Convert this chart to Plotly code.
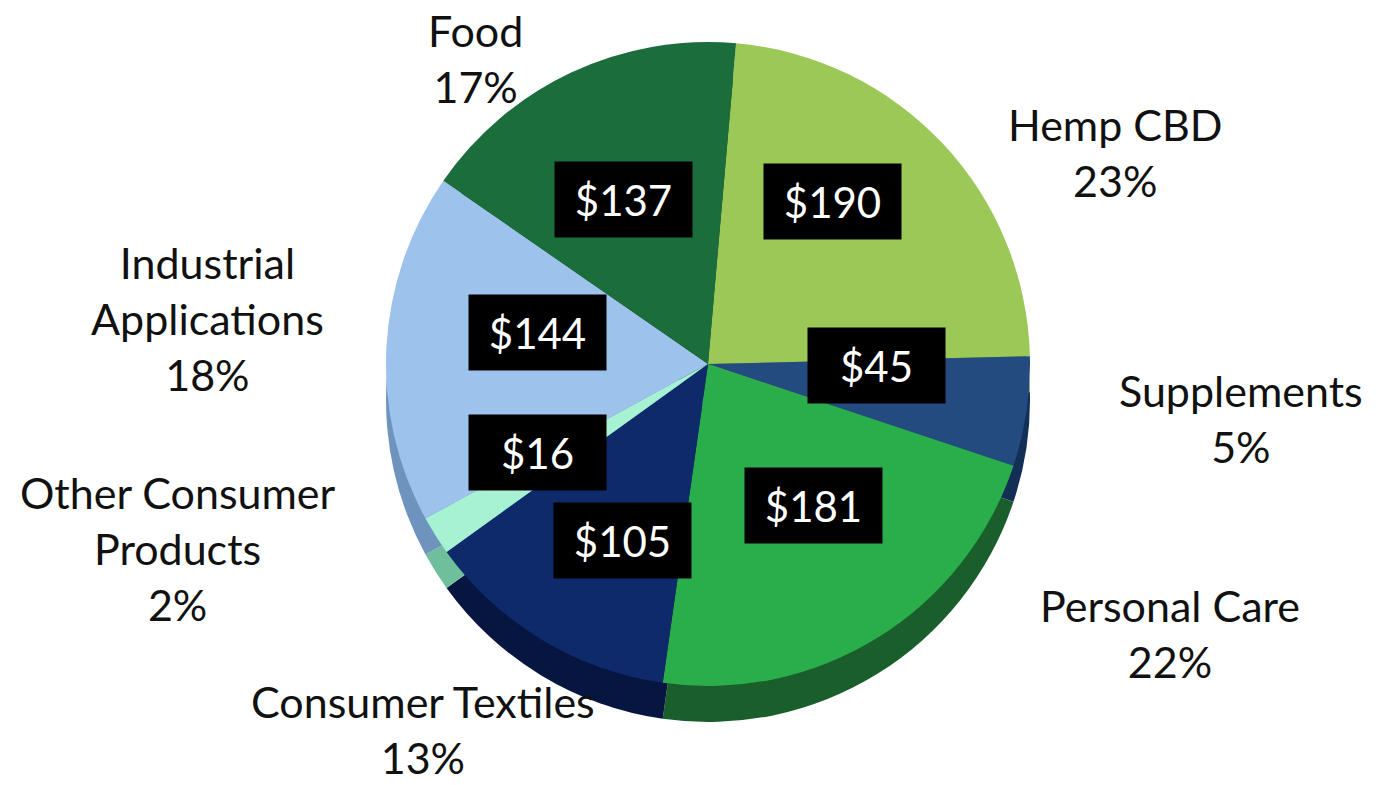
import plotly.graph_objects as go

categories = ["Hemp CBD", "Supplements", "Personal Care", "Consumer Textiles",
              "Other Consumer Products", "Industrial Applications", "Food"]
values = [190, 45, 181, 105, 16, 144, 137]
pct_labels = ["23%", "5%", "22%", "13%", "2%", "18%", "17%"]
label_lines = ["Hemp CBD", "Supplements", "Personal Care", "Consumer Textiles",
               "Other Consumer<br>Products", "Industrial<br>Applications", "Food"]
top_colors = ["#9BC857", "#234B80", "#2AAE4C", "#0F2A6B", "#A6F2D2", "#9DC3EC", "#1B6E3B"]
side_colors = ["#6F9A3A", "#142F55", "#1A5E2C", "#061640", "#6FBE9C", "#6E94BE", "#104A26"]

W, H = 1378, 785
cx, cy, r = 708, 364, 322
depth = 36

def dom(cx, cy):
    return dict(x=[(cx - r) / W, (cx + r) / W], y=[1 - (cy + r) / H, 1 - (cy - r) / H])

fig = go.Figure()
fig.add_trace(go.Pie(labels=categories, values=values, sort=False, direction="clockwise",
                     rotation=5, marker=dict(colors=side_colors, line=dict(width=0)),
                     textinfo="none", hoverinfo="skip", domain=dom(cx, cy + depth),
                     showlegend=False))
fig.add_trace(go.Pie(labels=categories, values=values, sort=False, direction="clockwise",
                     rotation=5, marker=dict(colors=top_colors, line=dict(width=0)),
                     textinfo="none", domain=dom(cx, cy), showlegend=False))

font = "Lato, 'Open Sans', sans-serif"
# value boxes (centre positions in pixels)
box_pos = {"Hemp CBD": (832, 202), "Supplements": (876, 365), "Personal Care": (814, 505),
           "Consumer Textiles": (622, 540), "Other Consumer Products": (537, 452),
           "Industrial Applications": (537, 332), "Food": (623, 200)}
for c, v in zip(categories, values):
    x, y = box_pos[c]
    fig.add_annotation(x=x / W, y=1 - y / H, xref="paper", yref="paper", text=f"${v}",
                       xanchor="center", yanchor="middle",
                       showarrow=False, bgcolor="black", borderpad=2, width=133, height=71,
                       font=dict(family=font, size=42, color="white"))

label_pos = {"Hemp CBD": (1115, 153), "Supplements": (1241, 418), "Personal Care": (1170, 633),
             "Consumer Textiles": (423, 729), "Other Consumer Products": (178, 548),
             "Industrial Applications": (207, 318), "Food": (475, 59)}
for c, l, p in zip(categories, label_lines, pct_labels):
    x, y = label_pos[c]
    fig.add_annotation(x=x / W, y=1 - y / H, xref="paper", yref="paper",
                       xanchor="center", yanchor="middle",
                       text=f"{l}<br>{p}", showarrow=False, align="center",
                       font=dict(family=font, size=43, color="#111111"))

fig.update_layout(width=W, height=H, margin=dict(l=0, r=0, t=0, b=0),
                  paper_bgcolor="white", plot_bgcolor="white")
fig.write_html("out.html", config={"displayModeBar": False},
               post_script="document.body.style.margin='0';document.body.style.overflow='hidden';")
